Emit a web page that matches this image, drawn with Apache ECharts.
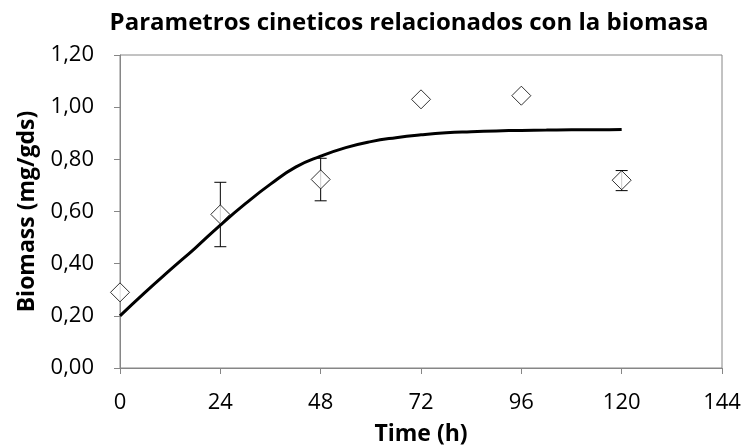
<!DOCTYPE html>
<html>
<head>
<meta charset="utf-8">
<script src="https://cdn.jsdelivr.net/npm/echarts@6/dist/echarts.min.js"></script>
<style>html,body{margin:0;padding:0;background:#fff}#c{width:744px;height:446px}</style>
</head>
<body>
<div id="c"></div>
<script>
// Observed data (mean biomass, with error bar limits)
const obsTime = [0, 24, 48, 72, 96, 120];
const obsBiomass = [0.29, 0.589, 0.723, 1.03, 1.044, 0.72];
const obsLow = [0.29, 0.465, 0.641, 1.03, 1.044, 0.68];
const obsHigh = [0.29, 0.712, 0.804, 1.03, 1.044, 0.757];
// Model curve
const fitTime = [0, 6, 12, 18, 24, 30, 36, 42, 48, 54, 60, 66, 72, 78, 84, 90, 96, 102, 108, 114, 120];
const fitBiomass = [0.20, 0.29, 0.376, 0.46, 0.548, 0.63, 0.705, 0.77, 0.812, 0.845, 0.868, 0.883, 0.894, 0.902, 0.906, 0.909, 0.911, 0.912, 0.913, 0.913, 0.914];
const xTicks = [0, 24, 48, 72, 96, 120, 144];
const yTicks = [0, 0.2, 0.4, 0.6, 0.8, 1.0, 1.2];

const chart = echarts.init(document.getElementById('c'), null, {renderer: 'canvas'});
const font = '"Open Sans", "Noto Sans", sans-serif';
const axisGray = '#868686';

const fitData = fitTime.map((t, i) => [t, fitBiomass[i]]);
const obsData = obsTime.map((t, i) => [t, obsBiomass[i]]);
const errData = obsTime.map((t, i) => [t, obsLow[i], obsHigh[i]]).filter(d => d[2] > d[1]);

chart.setOption({
  animation: false,
  backgroundColor: '#fff',
  title: {
    text: 'Parametros cineticos relacionados con la biomasa',
    left: 404, top: 6, textAlign: 'center',
    textStyle: {fontFamily: font, fontWeight: 'bold', fontSize: 24, color: '#000'}
  },
  grid: {left: 120, right: 22, top: 55, bottom: 78, containLabel: false, outerBoundsMode: 'none',
    show: true, borderColor: axisGray, borderWidth: 1, backgroundColor: 'transparent'},
  xAxis: {
    type: 'value', min: xTicks[0], max: xTicks[xTicks.length - 1], interval: 24,
    name: 'Time (h)', nameLocation: 'middle', nameGap: 55,
    nameTextStyle: {fontFamily: font, fontWeight: 'bold', fontSize: 23, color: '#000'},
    axisLine: {show: true, onZero: false, lineStyle: {color: axisGray, width: 1}},
    axisTick: {show: true, length: 6, lineStyle: {color: axisGray}},
    axisLabel: {fontFamily: font, fontSize: 22, color: '#000', margin: 24},
    splitLine: {show: false}
  },
  yAxis: {
    type: 'value', min: yTicks[0], max: yTicks[yTicks.length - 1], interval: 0.2,
    name: 'Biomass (mg/gds)', nameLocation: 'middle', nameGap: 81, nameRotate: 90,
    nameTextStyle: {fontFamily: font, fontWeight: 'bold', fontSize: 23, color: '#000'},
    axisLine: {show: true, lineStyle: {color: axisGray, width: 1}},
    axisTick: {show: true, length: 6, lineStyle: {color: axisGray}},
    axisLabel: {fontFamily: font, fontSize: 22, color: '#000', margin: 26,
      formatter: v => v.toFixed(2).replace('.', ',')},
    splitLine: {show: false}
  },
  series: [
    {
      type: 'custom', name: 'err', data: errData, z: 2,
      renderItem: function (params, api) {
        const x = api.value(0);
        const lo = api.coord([x, api.value(1)]);
        const hi = api.coord([x, api.value(2)]);
        const w = 6;
        const st = {stroke: '#000', lineWidth: 1};
        return {type: 'group', children: [
          {type: 'line', shape: {x1: lo[0], y1: lo[1], x2: hi[0], y2: hi[1]}, style: st},
          {type: 'line', shape: {x1: lo[0] - w, y1: lo[1], x2: lo[0] + w, y2: lo[1]}, style: st},
          {type: 'line', shape: {x1: hi[0] - w, y1: hi[1], x2: hi[0] + w, y2: hi[1]}, style: st}
        ]};
      }
    },
    {
      type: 'line', name: 'fit', data: fitData, smooth: true, showSymbol: false, z: 3,
      lineStyle: {color: '#000', width: 3}
    },
    {
      type: 'scatter', name: 'obs', data: obsData, symbol: 'diamond', symbolSize: [19, 19], z: 4,
      itemStyle: {color: '#fff', borderColor: '#000', borderWidth: 1}
    }
  ]
});
</script>
</body>
</html>
